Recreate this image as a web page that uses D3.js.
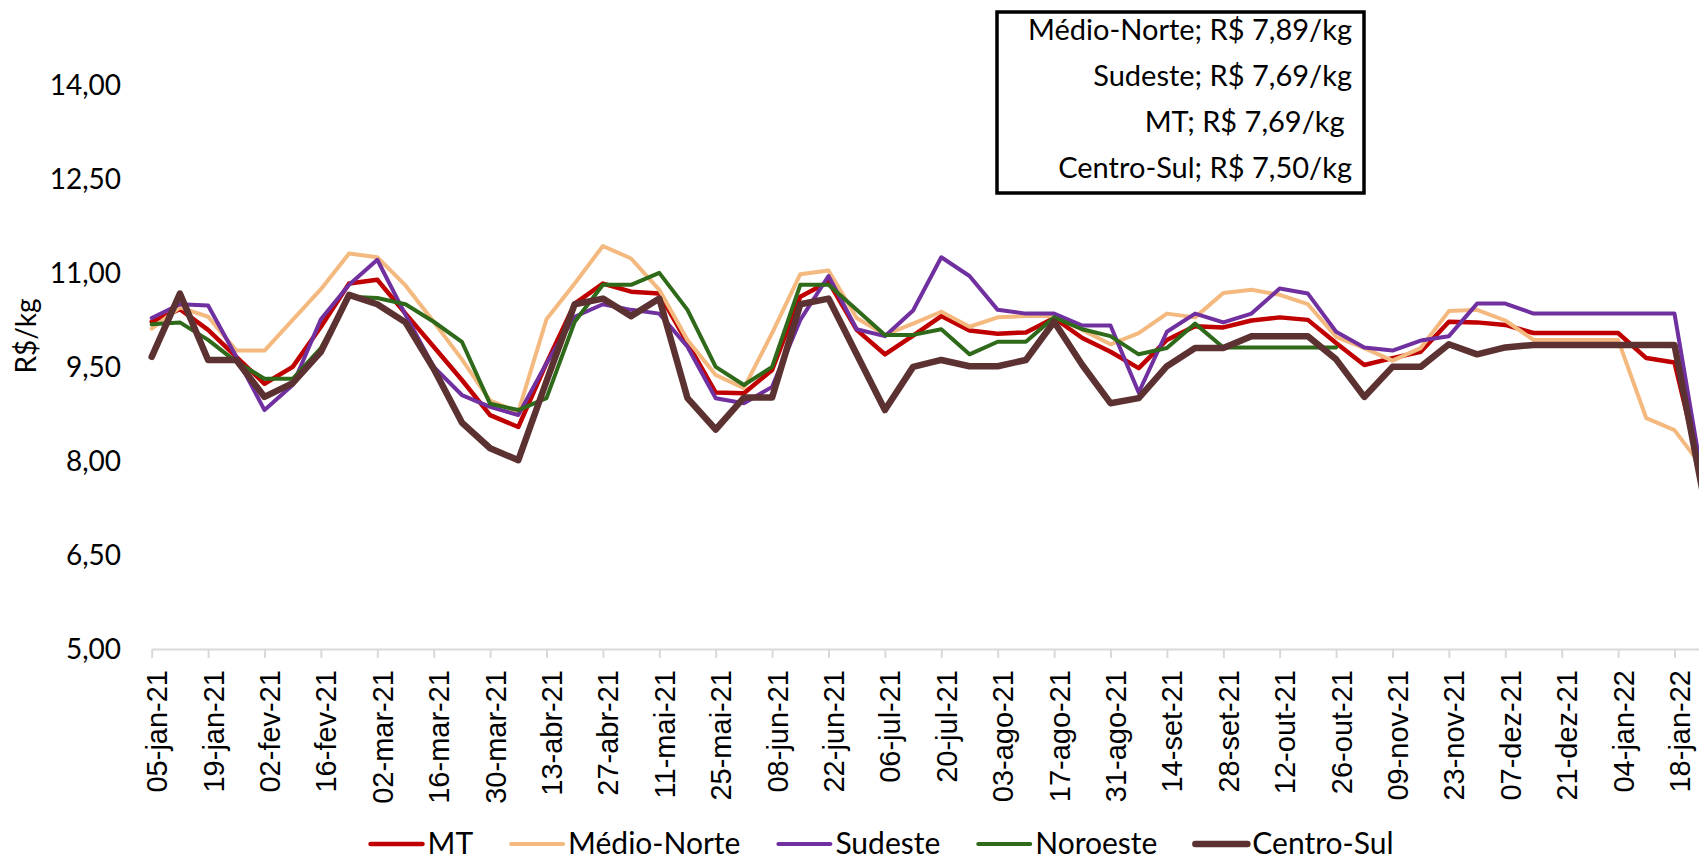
<!DOCTYPE html>
<html>
<head>
<meta charset="utf-8">
<script src="https://cdn.jsdelivr.net/npm/d3@7"></script>
<style>
  body { margin: 0; background: #fff; }
  svg { display: block; }
</style>
</head>
<body>
<div id="chart"></div>
<script>
// weekly dates (categories)
var dates = [
  "05-jan-21","12-jan-21","19-jan-21","26-jan-21","02-fev-21","09-fev-21","16-fev-21","23-fev-21",
  "02-mar-21","09-mar-21","16-mar-21","23-mar-21","30-mar-21","06-abr-21","13-abr-21","20-abr-21",
  "27-abr-21","04-mai-21","11-mai-21","18-mai-21","25-mai-21","01-jun-21","08-jun-21","15-jun-21",
  "22-jun-21","29-jun-21","06-jul-21","13-jul-21","20-jul-21","27-jul-21","03-ago-21","10-ago-21",
  "17-ago-21","24-ago-21","31-ago-21","07-set-21","14-set-21","21-set-21","28-set-21","05-out-21",
  "12-out-21","19-out-21","26-out-21","02-nov-21","09-nov-21","16-nov-21","23-nov-21","30-nov-21",
  "07-dez-21","14-dez-21","21-dez-21","28-dez-21","04-jan-22","11-jan-22","18-jan-22","25-jan-22"
];

var mt = [
  10.22,10.42,10.09,9.66,9.23,9.50,10.14,10.83,10.89,10.35,9.82,9.29,8.73,8.54,
  9.56,10.51,10.83,10.70,10.67,9.88,9.09,9.08,9.45,10.62,10.86,10.09,9.70,10.00,
  10.31,10.08,10.03,10.05,10.28,9.96,9.74,9.48,9.93,10.15,10.13,10.24,10.29,10.25,
  9.88,9.53,9.64,9.74,10.22,10.21,10.17,10.04,10.04,10.04,10.04,9.64,9.57,7.69
];
var medioNorte = [
  10.11,10.45,10.30,9.76,9.76,10.25,10.74,11.31,11.25,10.80,10.22,9.62,8.96,8.78,
  10.26,10.83,11.43,11.23,10.73,9.93,9.37,9.16,10.04,10.98,11.04,10.28,10.01,10.19,
  10.38,10.14,10.29,10.31,10.31,10.09,9.86,10.04,10.35,10.29,10.68,10.73,10.65,10.50,
  9.98,9.80,9.60,9.80,10.39,10.41,10.24,9.93,9.93,9.93,9.93,8.68,8.49,7.89
];
var sudeste = [
  10.28,10.50,10.48,9.66,8.81,9.21,10.26,10.81,11.21,10.33,9.50,9.05,8.86,8.73,
  9.56,10.30,10.50,10.41,10.35,9.82,9.00,8.92,9.18,10.25,10.95,10.10,9.99,10.40,
  11.25,10.95,10.41,10.35,10.35,10.16,10.16,9.09,10.06,10.35,10.21,10.35,10.75,10.67,
  10.06,9.81,9.76,9.92,9.99,10.51,10.51,10.35,10.35,10.35,10.35,10.35,10.35,7.69
];
var noroeste = [
  10.18,10.21,9.93,9.58,9.31,9.31,9.80,10.62,10.60,10.50,10.22,9.90,8.91,8.81,
  9.00,10.22,10.81,10.81,11.00,10.41,9.50,9.21,9.50,10.81,10.81,10.41,10.01,10.01,
  10.10,9.70,9.90,9.90,10.29,10.10,9.99,9.70,9.80,10.19,9.81,9.81,9.81,9.81,
  9.81,null,null,null,null,null,null,null,null,null,null,null,null,null
];
var centroSul = [
  9.66,10.67,9.61,9.61,9.02,9.24,9.74,10.65,10.50,10.21,9.47,8.61,8.20,8.01,
  9.27,10.50,10.59,10.31,10.59,9.00,8.50,9.01,9.01,10.50,10.59,9.70,8.81,9.50,
  9.61,9.51,9.51,9.61,10.22,9.53,8.92,9.00,9.51,9.80,9.80,9.99,9.99,9.99,
  9.62,9.02,9.50,9.50,9.86,9.70,9.81,9.85,9.85,9.85,9.85,9.85,9.85,7.50
];

var seriesNames = ["MT", "Médio-Norte", "Sudeste", "Noroeste", "Centro-Sul"];
var seriesValues = [mt, medioNorte, sudeste, noroeste, centroSul];
var seriesColors = ["#C00000", "#F4B97F", "#7030A0", "#2E6A1A", "#5C3131"];
var seriesWidths = [4.5, 4, 4, 4, 6.5];

var yTicks = [5, 6.5, 8, 9.5, 11, 12.5, 14];
var xTickLabels = dates.filter(function(d, i) { return i % 2 === 0; });

var boxLabels = [
  "Médio-Norte; R$ 7,89/kg",
  "Sudeste; R$ 7,69/kg",
  "MT; R$ 7,69/kg ",
  "Centro-Sul; R$ 7,50/kg"
];

var svgWidth = 1699;
var svgHeight = 860;

var svg = d3.select("#chart")
  .append("svg")
  .attr("width", svgWidth)
  .attr("height", svgHeight);

var x = d3.scalePoint()
  .domain(dates)
  .range([151.7, 1702.7]);

var y = d3.scaleLinear()
  .domain([5, 14])
  .range([648.7, 85]);

var ptBR = d3.formatLocale({ decimal: ",", thousands: ".", grouping: [3], currency: ["R$", ""] });
var fmt = ptBR.format(".2f");

// y labels (no axis line in the original)
svg.append("g")
  .selectAll("text")
  .data(yTicks)
  .enter()
  .append("text")
  .attr("x", 121)
  .attr("y", d => y(d))
  .attr("dy", "0.35em")
  .attr("text-anchor", "end")
  .attr("font-family", "Lato, 'Noto Sans', sans-serif")
  .attr("font-size", "28px")
  .attr("fill", "#000")
  .text(d => fmt(d));

// y title
svg.append("text")
  .attr("transform", "translate(36, 336) rotate(-90)")
  .attr("text-anchor", "middle")
  .attr("font-family", "Lato, 'Noto Sans', sans-serif")
  .attr("font-size", "28px")
  .attr("fill", "#000")
  .text("R$/kg");

// x axis
var xAxis = d3.axisBottom(x)
  .tickValues(xTickLabels)
  .tickSize(9)
  .tickSizeOuter(0);

var xg = svg.append("g")
  .attr("transform", "translate(0, 649)")
  .call(xAxis);

xg.select(".domain").attr("stroke", "#D9D9D9").attr("stroke-width", 2);
xg.selectAll(".tick line").attr("stroke", "#D9D9D9").attr("stroke-width", 2);
xg.selectAll(".tick text")
  .attr("transform", "rotate(-90)")
  .attr("x", -21)
  .attr("y", 15)
  .attr("dy", null)
  .attr("text-anchor", "end")
  .attr("font-family", "'Liberation Sans', Arial, sans-serif")
  .attr("font-size", "29px")
  .attr("fill", "#000");

// lines
var line = d3.line()
  .defined(d => d.v !== null)
  .x(d => x(d.date))
  .y(d => y(d.v));

seriesNames.forEach(function(name, s) {
  var pts = dates.map(function(d, i) { return { date: d, v: seriesValues[s][i] }; });
  svg.append("path")
    .datum(pts)
    .attr("fill", "none")
    .attr("stroke", seriesColors[s])
    .attr("stroke-width", seriesWidths[s])
    .attr("stroke-linejoin", "round")
    .attr("stroke-linecap", "round")
    .attr("d", line);
});

// text box with last prices
svg.append("rect")
  .attr("x", 997)
  .attr("y", 12)
  .attr("width", 367)
  .attr("height", 181)
  .attr("fill", "#fff")
  .attr("stroke", "#000")
  .attr("stroke-width", 3.5);

svg.append("g")
  .selectAll("text")
  .data(boxLabels)
  .enter()
  .append("text")
  .attr("x", 1352)
  .attr("y", (d, i) => 40 + i * 46)
  .attr("text-anchor", "end")
  .attr("xml:space", "preserve")
  .style("white-space", "pre")
  .attr("font-family", "Lato, 'Noto Sans', sans-serif")
  .attr("font-size", "29px")
  .attr("fill", "#000")
  .text(d => d);

// legend
var legend = svg.append("g");
var lx = 0;
seriesNames.forEach(function(name, s) {
  var item = legend.append("g").attr("transform", `translate(${lx}, 0)`);
  item.append("line")
    .attr("x1", 0)
    .attr("x2", 52)
    .attr("y1", 0)
    .attr("y2", 0)
    .attr("stroke", seriesColors[s])
    .attr("stroke-width", seriesWidths[s])
    .attr("stroke-linecap", "round");
  var t = item.append("text")
    .attr("x", 57)
    .attr("y", 10)
    .attr("font-family", "Lato, 'Noto Sans', sans-serif")
    .attr("font-size", "30px")
    .attr("fill", "#000")
    .text(name);
  lx += 57 + t.node().getComputedTextLength() + 38;
});
var legendWidth = lx - 38;
legend.attr("transform", `translate(${882 - legendWidth / 2}, 844)`);
</script>
</body>
</html>
